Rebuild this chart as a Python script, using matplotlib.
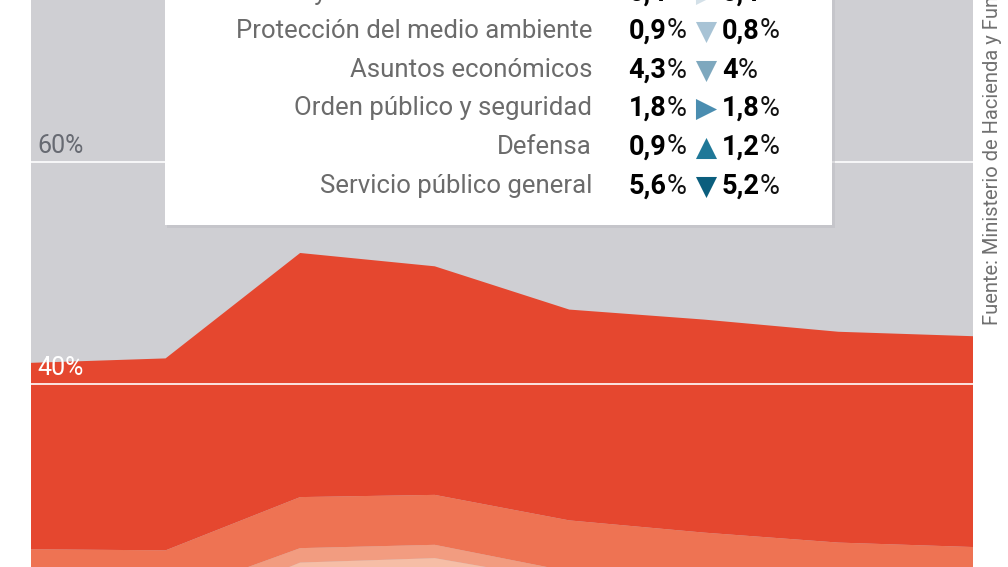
import matplotlib
matplotlib.use("Agg")
import matplotlib.pyplot as plt
import numpy as np
from matplotlib.patches import Rectangle

# % del PIB, capas apiladas de abajo arriba (solo se ve la parte alta del gráfico)
anios = [2016, 2017, 2018, 2019, 2020, 2021, 2022, 2023]
gasto_base = [19.0, 19.0, 23.9, 24.3, 22.2, 21.5, 21.1, 20.9]
banda_clara = [1.9, 1.8, 1.3, 1.2, 0.9, 0.9, 0.9, 0.9]
banda_naranja = [4.2, 4.2, 4.6, 4.5, 4.6, 4.2, 3.7, 3.5]
banda_roja = [16.8, 17.3, 22.0, 20.6, 19.0, 19.2, 19.0, 19.0]

# tabla de la leyenda
conceptos = ["Vivienda y servicios comunitarios", "Protección del medio ambiente",
             "Asuntos económicos", "Orden público y seguridad", "Defensa",
             "Servicio público general"]
valor_inicio = ["0,4", "0,9", "4,3", "1,8", "0,9", "5,6"]
valor_fin = ["0,4", "0,8", "4", "1,8", "1,2", "5,2"]
color_flecha = ["#d3e0e8", "#a8c3d5", "#7ea8be", "#4a8db0", "#1f7898", "#0b5e7d"]

ticks = [40, 60]

plt.rcParams['font.family'] = ['Roboto', 'DejaVu Sans']

fig = plt.figure(figsize=(10.08, 5.67), dpi=100)
ax = fig.add_axes([31 / 1008, 0, 942 / 1008, 1])
ax.set_facecolor("#cfcfd3")

capas = [gasto_base, banda_clara, banda_naranja, banda_roja]
colores = ["#f6bea6", "#f29c80", "#ee7353", "#e5472f"]
ax.stackplot(anios, *capas, colors=colores, linewidth=0)

ax.set_xlim(anios[0], anios[-1])
ax.set_ylim(23.5, 74.6)
for t in ticks:
    ax.axhline(t, color="white", lw=1.2, zorder=3)
ax.text(anios[0] + 0.05, 60.8, "60%", color="#676a72", fontsize=18,
        va="baseline", zorder=4)
ax.text(anios[0] + 0.05, 40.8, "40%", color="white", fontsize=18,
        va="baseline", zorder=4)
ax.set_xticks([])
ax.set_yticks([])
for s in ax.spines.values():
    s.set_visible(False)

# capa superior en píxeles para la caja de la leyenda
lay = fig.add_axes([0, 0, 1, 1], zorder=10)
lay.set_xlim(0, 1008)
lay.set_ylim(567, 0)
lay.axis("off")
lay.patch.set_alpha(0)

lay.add_patch(Rectangle((167, -10), 668, 238, color="#bdbdc2", alpha=0.5, lw=0))
lay.add_patch(Rectangle((165, -10), 667, 235, color="white", lw=0))

r = fig.canvas.get_renderer()
filas_y = [-7, 31, 70, 108, 147, 186]
fs_txt = 18.5
fs_val = 19.5
for i, y in enumerate(filas_y):
    lay.text(592, y, conceptos[i], ha="right", va="center", fontsize=fs_txt, color="#6b6b6b")
    # primer valor, alineado a la derecha
    p = lay.text(686, y, "%", ha="right", va="center", fontsize=fs_val, color="#111111")
    w = p.get_window_extent(r).width
    lay.text(686 - w, y, valor_inicio[i], ha="right", va="center", fontsize=fs_val,
             color="black", fontweight="bold")
    a = float(valor_inicio[i].replace(",", "."))
    b = float(valor_fin[i].replace(",", "."))
    m = "v" if b < a else ("^" if b > a else ">")
    lay.scatter([706], [y + 1], marker=m, s=230, color=color_flecha[i], linewidths=0)
    n = lay.text(722, y, valor_fin[i], ha="left", va="center", fontsize=fs_val,
                 color="black", fontweight="bold")
    w = n.get_window_extent(r).width
    lay.text(722 + w, y, "%", ha="left", va="center", fontsize=fs_val, color="#111111")

lay.text(993, 325, "Fuente: Ministerio de Hacienda y Función Pública", rotation=90,
         ha="center", va="bottom", fontsize=14.5, color="#707070")

fig.savefig("out.png", dpi=100)
